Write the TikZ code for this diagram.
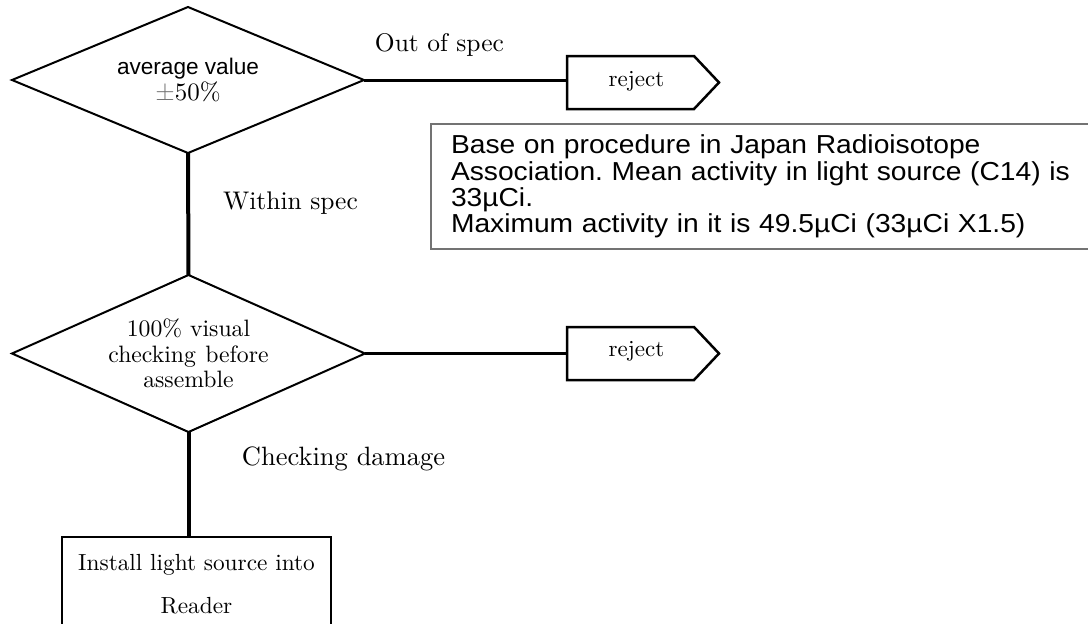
\documentclass[tikz,border=0pt]{standalone}
\usepackage{fontspec}
\setmainfont{lmroman10-regular}[Extension=.otf]
\newfontfamily\arialfont{Liberation Sans}
\newfontfamily\notefont[FakeStretch=1.085]{Liberation Sans}
\usetikzlibrary{shapes.geometric,calc}
\frenchspacing
\begin{document}
\begin{tikzpicture}[x=1pt,y=-1pt,
  decision/.style={draw, shape=diamond, aspect=2.4, inner sep=0pt, outer sep=0pt,
    line width=2pt, align=center},
  rejectbody/.style={minimum width=127pt, minimum height=53pt, inner sep=0pt, outer sep=0pt},
  rejectline/.style={draw, line width=2.5pt, line join=miter},
  serlabel/.style={font=\fontsize{25.5}{26}\selectfont, inner sep=0pt},
  hline/.style={line width=3pt},
  vline/.style={line width=4pt}]
\useasboundingbox (0,0) rectangle (1088,624);
\clip (0,0) rectangle (1088,624);
\fill[white] (0,0) rectangle (1088,624);

% decisions
\node[decision, minimum width=352pt, minimum height=146pt, font=\fontsize{22}{26}\selectfont]
  (d1) at (188,80) {{\arialfont\fontsize{22.6}{26}\selectfont average value}\\{\fontsize{25}{26}\selectfont\textcolor{black!55}{±}50\%}};
\node[decision, minimum width=353pt, minimum height=157pt, font=\fontsize{23.7}{25.5}\selectfont]
  (d2) at (188.5,353.5) {100\% visual\\checking\hspace{1.5pt} before\\assemble};

% reject boxes
\node[rejectbody] (r1) at (630.5,82.5) {};
\draw[rejectline] (r1.north west) -- (r1.north east) -- ($(r1.east)+(25,0)$) -- (r1.south east) -- (r1.south west) -- cycle;
\node[font=\fontsize{23}{25}\selectfont, inner sep=0pt] (r1t) at (636.5,81.5) {reject};
\node[rejectbody] (r2) at (630.5,353.5) {};
\draw[rejectline] (r2.north west) -- (r2.north east) -- ($(r2.east)+(25,0)$) -- (r2.south east) -- (r2.south west) -- cycle;
\node[font=\fontsize{23}{25}\selectfont, inner sep=0pt] (r2t) at (636.5,351.5) {reject};

% process box
\node[draw, line width=2.5pt, anchor=north, outer sep=0pt, inner xsep=0pt, inner ysep=17pt,
  text width=269pt, align=center, font=\fontsize{23.3}{43}\selectfont]
  (inst) at (196.5,537) {Install light source into\\Reader};

% note
\node[draw=black!55, line width=1.5pt, anchor=north west, outer sep=0pt, inner xsep=20pt, inner ysep=11pt,
  text width=640pt, align=left, font=\notefont\fontsize{26}{26.3}\selectfont]
  (note) at (431,124) {Base on procedure in Japan Radioisotope\\Association. Mean activity in light source (C14) is\\33µCi.\\Maximum activity in it is 49.5µCi (33µCi X1.5)};

% connectors
\draw[hline] (d1.east) -- (r1.west |- d1.east);
\draw[vline] (d1.south) -- (d2.north);
\draw[hline] (d2.east) -- (r2.west |- d2.east);
\draw[vline] (d2.south) -- (d2.south |- inst.north);

% labels
\node[serlabel, anchor=base] (lout) at (439.5,51) {Out of spec};
\node[serlabel, anchor=base] (lwithin) at (290.5,209) {Within spec};
\node[serlabel, anchor=base, font=\fontsize{26.5}{27}\selectfont] (ldamage) at (343.5,465) {Checking damage};
\end{tikzpicture}
\end{document}
